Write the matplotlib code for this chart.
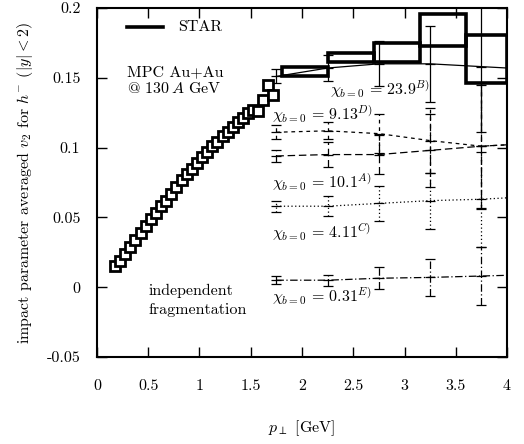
import matplotlib
matplotlib.use("Agg")
import matplotlib.pyplot as plt
import numpy as np

plt.rcParams['font.family'] = ['cmr10', 'DejaVu Serif']
plt.rcParams['mathtext.fontset'] = 'cm'
plt.rcParams['axes.unicode_minus'] = False
plt.rcParams['axes.formatter.use_mathtext'] = True

# STAR-like data points (open squares)
star_pt = [0.175, 0.225, 0.275, 0.325, 0.375, 0.425, 0.475, 0.525, 0.575, 0.625,
           0.675, 0.725, 0.775, 0.825, 0.875, 0.925, 0.975, 1.025, 1.075, 1.125,
           1.175, 1.225, 1.275, 1.325, 1.375, 1.425, 1.475, 1.525, 1.575, 1.62,
           1.67, 1.72]
star_v2 = [0.015, 0.019, 0.024, 0.029, 0.034, 0.039, 0.044, 0.049, 0.053, 0.058,
           0.062, 0.067, 0.072, 0.077, 0.081, 0.085, 0.089, 0.093, 0.097, 0.101,
           0.104, 0.108, 0.111, 0.115, 0.118, 0.121, 0.125, 0.127, 0.126, 0.134,
           0.145, 0.138]

# STAR high-pt boxes
box_lo_edge = [1.80, 2.25, 2.70, 3.15, 3.60]
box_hi_edge = [2.25, 2.70, 3.15, 3.60, 4.00]
box_low = [0.151, 0.161, 0.161, 0.173, 0.146]
box_high = [0.158, 0.168, 0.175, 0.196, 0.181]

# MPC curves
mpc_pt = [1.75, 2.25, 2.75, 3.25, 3.75, 4.25]
v2_B = [0.151, 0.157, 0.160, 0.160, 0.158, 0.156]
err_B = [0.005, 0.009, 0.016, 0.027, 0.047, 0.0]
v2_D = [0.111, 0.112, 0.110, 0.105, 0.101, 0.103]
err_D = [0.005, 0.006, 0.014, 0.023, 0.044, 0.0]
v2_A = [0.094, 0.095, 0.095, 0.098, 0.101, 0.103]
err_A = [0.004, 0.009, 0.014, 0.026, 0.045, 0.0]
v2_C = [0.058, 0.058, 0.060, 0.062, 0.063, 0.065]
err_C = [0.004, 0.007, 0.0125, 0.020, 0.034, 0.0]
v2_E = [0.005, 0.005, 0.0064, 0.007, 0.008, 0.009]
err_E = [0.003, 0.004, 0.008, 0.013, 0.021, 0.0]

labels = {
    'B': r'$\chi_{b=0}\,=\,23.9^{B)}$',
    'D': r'$\chi_{b=0}\,=\,9.13^{D)}$',
    'A': r'$\chi_{b=0}\,=\,10.1^{A)}$',
    'C': r'$\chi_{b=0}\,=\,4.11^{C)}$',
    'E': r'$\chi_{b=0}\,=\,0.31^{E)}$',
}

xticks = [0, 0.5, 1, 1.5, 2, 2.5, 3, 3.5, 4]
xticklabels = ['0', '0.5', '1', '1.5', '2', '2.5', '3', '3.5', '4']
yticks = [-0.05, 0, 0.05, 0.1, 0.15, 0.2]
yticklabels = ['-0.05', '0', '0.05', '0.1', '0.15', '0.2']

fig = plt.figure(figsize=(5.24, 4.44), dpi=100)
ax = fig.add_axes([0.1851, 0.196, 0.7825, 0.786])
ax.set_xlim(0, 4)
ax.set_ylim(-0.05, 0.2)

# boxes
heights = [h - l for h, l in zip(box_high, box_low)]
widths = [h - l for h, l in zip(box_hi_edge, box_lo_edge)]
ax.bar(box_lo_edge, heights, width=widths, bottom=box_low, align='edge',
       fill=False, edgecolor='black', linewidth=2.6, zorder=3)

# squares
ax.plot(star_pt, star_v2, linestyle='none', marker='s', markersize=7,
        mfc='white', mec='black', mew=2.0, zorder=4)

styles = [
    (v2_B, err_B, '-'),
    (v2_D, err_D, (0, (3, 3))),
    (v2_A, err_A, (0, (6, 3))),
    (v2_C, err_C, (0, (1, 2))),
    (v2_E, err_E, (0, (6, 2, 1, 2))),
]
for v, e, ls in styles:
    ax.plot(mpc_pt, v, color='black', linestyle=ls, linewidth=0.9)
    n = 5
    eb = ax.errorbar(mpc_pt[:n], v[:n], yerr=e[:n], fmt='none', ecolor='black',
                     elinewidth=0.9, capsize=3.5, capthick=0.9)
    for lc in eb[2]:
        lc.set_linestyle(ls)
    ax.plot(mpc_pt[:n], v[:n], linestyle='none', marker='_', markersize=7,
            mew=0.9, color='black')

# legend-like STAR entry
ax.plot([0.29, 0.64], [0.1864, 0.1864], color='black', linewidth=2.6)
ax.text(0.79, 0.1864, 'STAR', fontsize=11.5, va='center', ha='left')

ax.text(0.29, 0.154, 'MPC Au+Au', fontsize=11.5, va='center', ha='left')
ax.text(0.29, 0.1425, r'@ 130$\,A$ GeV', fontsize=11.5, va='center', ha='left')
ax.text(0.5, -0.0025, 'independent', fontsize=11.5, va='center', ha='left')
ax.text(0.5, -0.0165, 'fragmentation', fontsize=11.5, va='center', ha='left')

ax.text(2.27, 0.142, labels['B'], fontsize=11.5, va='center', ha='left')
ax.text(1.71, 0.1236, labels['D'], fontsize=11.5, va='center', ha='left')
ax.text(1.71, 0.075, labels['A'], fontsize=11.5, va='center', ha='left')
ax.text(1.71, 0.039, labels['C'], fontsize=11.5, va='center', ha='left')
ax.text(1.71, -0.0064, labels['E'], fontsize=11.5, va='center', ha='left')

ax.set_xticks(xticks)
ax.set_xticklabels(xticklabels)
ax.set_yticks(yticks)
ax.set_yticklabels(yticklabels)
ax.tick_params(direction='in', length=7, width=1, top=True, right=True,
               labelsize=11.5)
ax.tick_params(axis='x', pad=16)
ax.tick_params(axis='y', pad=12)
for s in ax.spines.values():
    s.set_linewidth(1.5)

ax.set_xlabel(r'$p_\perp$ [GeV]', fontsize=11.5, labelpad=18)
ax.set_ylabel(r'impact parameter averaged $v_2$ for $h^{-}$ $(|y| < 2)$',
              fontsize=11.5, labelpad=8)

fig.savefig('out.png', dpi=100)
